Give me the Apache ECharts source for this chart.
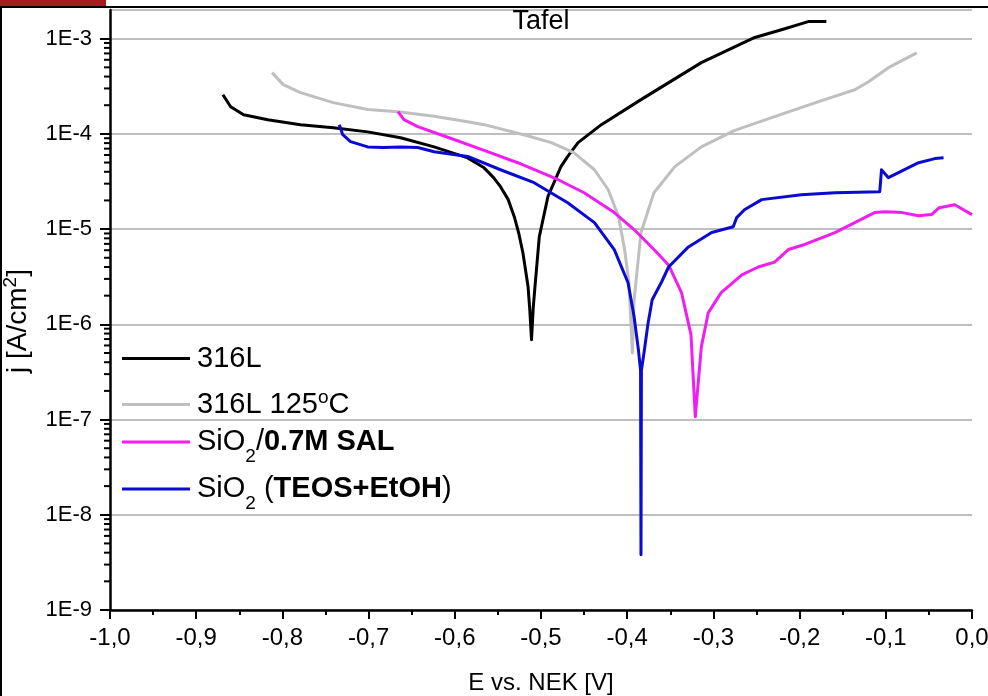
<!DOCTYPE html>
<html>
<head>
<meta charset="utf-8">
<title>Tafel</title>
<script src="https://cdn.jsdelivr.net/npm/echarts@6/dist/echarts.min.js"></script>
<style>
  html, body { margin: 0; padding: 0; background: #fff; }
  #chart { width: 988px; height: 696px; }
</style>
</head>
<body>
<div id="chart"></div>
<script>
// Potential E (V vs. NEK) and current density j (A/cm2) for each sample
const e316L = [-0.869,-0.860,-0.845,-0.817,-0.779,-0.741,-0.701,-0.663,-0.624,-0.585,-0.566,-0.555,-0.547,-0.538,-0.531,-0.526,-0.521,-0.515,-0.513,-0.511,-0.509,-0.507,-0.502,-0.492,-0.477,-0.469,-0.457,-0.430,-0.384,-0.314,-0.252,-0.221,-0.190,-0.169];
const j316L = [2.58e-4,1.93e-4,1.59e-4,1.41e-4,1.25e-4,1.16e-4,1.05e-4,9.1e-5,7.3e-5,5.6e-5,4.4e-5,3.47e-5,2.79e-5,2.04e-5,1.35e-5,9.2e-6,5.65e-6,2.48e-6,1.42e-6,6.9e-7,1.5e-6,2.48e-6,8.3e-6,2.19e-5,4.5e-5,5.8e-5,8.1e-5,1.25e-4,2.29e-4,5.6e-4,1.03e-3,1.24e-3,1.51e-3,1.51e-3];

const e316L125 = [-0.812,-0.799,-0.779,-0.741,-0.701,-0.666,-0.624,-0.585,-0.566,-0.520,-0.488,-0.462,-0.438,-0.422,-0.410,-0.403,-0.398,-0.394,-0.392,-0.384,-0.369,-0.345,-0.314,-0.276,-0.229,-0.178,-0.136,-0.120,-0.097,-0.064];
const j316L125 = [4.40e-4,3.29e-4,2.71e-4,2.13e-4,1.80e-4,1.71e-4,1.53e-4,1.34e-4,1.25e-4,9.8e-5,8.1e-5,6.35e-5,4.2e-5,2.59e-5,1.35e-5,6.1e-6,2.73e-6,5.0e-7,1.81e-6,9.2e-6,2.41e-5,4.5e-5,7.3e-5,1.08e-4,1.52e-4,2.18e-4,2.91e-4,3.53e-4,4.96e-4,7.1e-4];

const eSal = [-0.666,-0.659,-0.643,-0.605,-0.566,-0.527,-0.480,-0.450,-0.415,-0.392,-0.369,-0.352,-0.337,-0.326,-0.321,-0.314,-0.306,-0.291,-0.267,-0.248,-0.229,-0.213,-0.194,-0.159,-0.136,-0.113,-0.101,-0.081,-0.062,-0.047,-0.038,-0.020,0.000];
const jSal = [1.71e-4,1.41e-4,1.19e-4,9.0e-5,6.7e-5,4.98e-5,3.30e-5,2.41e-5,1.49e-5,9.9e-6,6.1e-6,4.2e-6,2.15e-6,7.8e-7,1.07e-7,5.8e-7,1.32e-6,2.15e-6,3.3e-6,4.0e-6,4.5e-6,6.1e-6,6.9e-6,9.2e-6,1.17e-5,1.49e-5,1.52e-5,1.49e-5,1.38e-5,1.42e-5,1.68e-5,1.80e-5,1.42e-5];

const eTeos = [-0.734,-0.730,-0.721,-0.701,-0.683,-0.663,-0.643,-0.624,-0.585,-0.547,-0.508,-0.469,-0.438,-0.415,-0.399,-0.392,-0.387,-0.3845,-0.384,-0.3835,-0.380,-0.376,-0.371,-0.360,-0.352,-0.329,-0.302,-0.277,-0.273,-0.264,-0.244,-0.198,-0.159,-0.107,-0.105,-0.097,-0.062,-0.043,-0.033];
const jTeos = [1.25e-4,9.8e-5,8.3e-5,7.3e-5,7.2e-5,7.3e-5,7.2e-5,6.5e-5,5.8e-5,4.2e-5,3.07e-5,1.89e-5,1.17e-5,6.1e-6,2.73e-6,1.20e-6,5.4e-7,3.3e-7,3.8e-9,3.3e-7,5.4e-7,1.0e-6,1.81e-6,2.8e-6,4.0e-6,6.5e-6,9.2e-6,1.06e-5,1.32e-5,1.60e-5,2.04e-5,2.30e-5,2.41e-5,2.47e-5,4.2e-5,3.47e-5,4.98e-5,5.5e-5,5.6e-5];

const seriesNames = ['316L', '316L 125°C', 'SiO2/0.7M SAL', 'SiO2 (TEOS+EtOH)'];
const seriesColors = ['#000000', '#bfbfbf', '#f01ef0', '#0a0ad2'];
const legendLabels = ['{n|316L}', '{n|316L 125}{sup|o}{n|C}', '{n|SiO}{sub|2}{n|/}{b|0.7M SAL}', '{n|SiO}{sub|2}{n| (}{b|TEOS+EtOH}{n|)}'];

// Axis ranges and ticks
const xMin = -1.0, xMax = 0.0, xStep = 0.1;
const yMin = 1e-9, yMax = 2e-3;
const decades = [-9, -8, -7, -6, -5, -4];   // decades that get log minor ticks
const minorMultipliers = [2, 3, 4, 5, 6, 7, 8, 9];

const zip = (xs, ys) => xs.map((x, i) => [x, ys[i]]);
const curves = [zip(e316L, j316L), zip(e316L125, j316L125), zip(eSal, jSal), zip(eTeos, jTeos)];

const minorVals = [];
decades.forEach(d => minorMultipliers.forEach(m => minorVals.push([xMin, m * Math.pow(10, d)])));

const baseFont = '"Liberation Sans", Arial, sans-serif';

const legendRich = {
  n: { fontSize: 29, lineHeight: 40, fontFamily: baseFont, color: '#000' },
  b: { fontSize: 29, lineHeight: 40, fontFamily: baseFont, fontWeight: 'bold', color: '#000' },
  sub: { fontSize: 19, lineHeight: 19, fontFamily: baseFont, color: '#000', padding: [30, 0, 0, 0] },
  sup: { fontSize: 19, lineHeight: 19, fontFamily: baseFont, color: '#000', padding: [0, 0, 14, 0] }
};

// legend rows: vertical centre of each entry and half of its text box height
const legendCenters = [358, 403, 440, 488];
const legendHalf = [14, 15, 22.5, 23.5];
const legends = seriesNames.map((name, i) => ({
  data: [name],
  left: 122,
  top: legendCenters[i] - legendHalf[i],
  padding: 0,
  icon: 'rect',
  itemWidth: 68,
  itemHeight: 3,
  selectedMode: false,
  formatter: () => legendLabels[i],
  textStyle: { fontSize: 29, fontFamily: baseFont, color: '#000', padding: [0, 0, 0, 2], rich: legendRich }
}));

const chart = echarts.init(document.getElementById('chart'), null, { renderer: 'canvas' });
chart.setOption({
  animation: false,
  backgroundColor: '#ffffff',
  title: {
    text: 'Tafel',
    left: 541,
    top: 8,
    padding: 0,
    textAlign: 'center',
    textStyle: { fontFamily: baseFont, fontSize: 27, fontWeight: 'normal', color: '#000' }
  },
  legend: legends,
  grid: { left: 110, right: 16, top: 10, bottom: 86, outerBoundsMode: 'none', containLabel: false },
  xAxis: {
    type: 'value',
    min: xMin, max: xMax, interval: xStep,
    name: 'E vs. NEK [V]',
    nameLocation: 'middle',
    nameGap: 61,
    nameTextStyle: { fontFamily: baseFont, fontSize: 24, color: '#000' },
    axisLine: { onZero: false, lineStyle: { color: '#000', width: 2.5 } },
    axisTick: { show: true, inside: false, length: 9, lineStyle: { color: '#000', width: 2 } },
    minorTick: { show: true, splitNumber: 2, length: 5, lineStyle: { color: '#000', width: 2 } },
    axisLabel: {
      margin: 16,
      fontFamily: baseFont, fontSize: 24, color: '#000',
      formatter: v => v.toFixed(1).replace('.', ',')
    },
    splitLine: { show: false }
  },
  yAxis: {
    type: 'log',
    logBase: 10,
    min: yMin, max: yMax,
    name: '{n|j [A/cm}{sup|2}{n|]}',
    nameLocation: 'middle',
    nameGap: 71,
    nameTextStyle: {
      fontFamily: baseFont, fontSize: 28, color: '#000',
      padding: [0, 22, 0, 0],
      rich: {
        n: { fontSize: 28, lineHeight: 34, fontFamily: baseFont, color: '#000' },
        sup: { fontSize: 19, lineHeight: 19, fontFamily: baseFont, color: '#000', padding: [0, 0, 14, 0] }
      }
    },
    axisLine: { onZero: false, lineStyle: { color: '#000', width: 2.5 } },
    axisTick: { show: true, inside: false, length: 10, lineStyle: { color: '#000', width: 2 } },
    minorTick: { show: false },
    axisLabel: {
      margin: 18,
      showMaxLabel: false,
      fontFamily: baseFont, fontSize: 22, color: '#000',
      formatter: v => '1E' + Math.round(Math.log10(v))
    },
    splitLine: { show: true, lineStyle: { color: '#aaaaaa', width: 1.5 } }
  },
  graphic: [
    { type: 'rect', left: 0, top: 0, shape: { width: 106, height: 7 }, style: { fill: '#a51d1d' }, silent: true },
    { type: 'rect', left: 0, top: 6, shape: { width: 988, height: 2 }, style: { fill: '#000' }, silent: true },
    { type: 'rect', left: 0, top: 6, shape: { width: 2, height: 690 }, style: { fill: '#000' }, silent: true }
  ],
  series: curves.map((pts, i) => ({
    name: seriesNames[i],
    type: 'line',
    data: pts,
    showSymbol: false,
    symbol: 'none',
    smooth: false,
    clip: true,
    lineStyle: { color: seriesColors[i], width: 3, join: 'round' },
    itemStyle: { color: seriesColors[i] },
    z: 3 + i
  })).concat([{
    // log-spaced minor ticks on the current-density axis
    name: 'minorTicks',
    type: 'custom',
    silent: true,
    clip: false,
    data: minorVals,
    renderItem: (params, api) => {
      const p = api.coord([api.value(0), api.value(1)]);
      return {
        type: 'line',
        shape: { x1: p[0] - 6, y1: p[1], x2: p[0], y2: p[1] },
        style: { stroke: '#000', lineWidth: 2 }
      };
    },
    z: 10
  }])
});
</script>
</body>
</html>
